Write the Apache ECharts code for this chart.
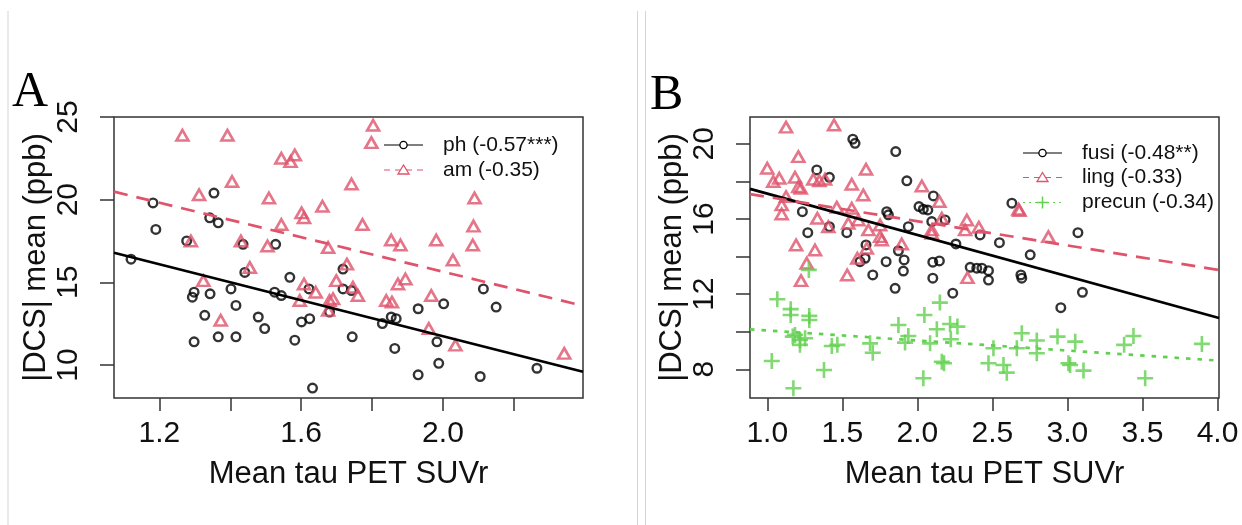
<!DOCTYPE html>
<html>
<head>
<meta charset="utf-8">
<script src="https://cdn.jsdelivr.net/npm/echarts@6/dist/echarts.min.js"></script>
<style>
  html, body { margin: 0; padding: 0; background: #fff; }
  #chart { width: 1242px; height: 525px; }
</style>
</head>
<body>
<div id="chart"></div>
<script>
// Panel A: parahippocampal (ph) and amygdala (am) |DCS| means vs mean tau PET SUVr
const phTau = [1.12, 1.182, 1.19, 1.277, 1.298, 1.293, 1.343, 1.328, 1.298, 1.366, 1.416, 1.416, 1.402, 1.441, 1.436, 1.354,
  1.342, 1.366, 1.479, 1.497, 1.528, 1.525, 1.544, 1.568, 1.601, 1.624, 1.582, 1.632, 1.622, 1.68, 1.718, 1.718, 1.742,
  1.744, 1.829, 1.854, 1.868, 1.864, 1.93, 2.002, 1.983, 1.988, 1.93, 2.114, 2.15, 2.105, 2.265];
const phDcs = [16.4, 19.8, 18.2, 17.5, 14.4, 14.1, 14.3, 13.0, 11.4, 11.7, 11.7, 13.6, 14.6, 15.6, 17.3, 20.4,
  18.9, 18.6, 12.9, 12.2, 17.3, 14.4, 14.2, 15.3, 12.6, 12.8, 11.5, 8.6, 14.6, 13.2, 15.8, 14.6, 14.5,
  11.7, 12.5, 12.9, 12.8, 11.0, 13.4, 13.7, 11.4, 10.1, 9.4, 14.6, 13.5, 9.3, 9.8];

const amTau = [1.265, 1.392, 1.544, 1.582, 1.57, 1.405, 1.312, 1.509, 1.742, 1.66, 1.601, 1.608, 1.544, 1.773, 1.803, 1.798,
  2.089, 2.086, 1.854, 1.88, 1.981, 2.084, 2.028, 1.729, 1.746, 1.76, 1.894, 1.873, 1.84, 1.856, 1.967, 1.96,
  2.035, 2.342, 1.289, 1.43, 1.505, 1.676, 1.455, 1.324, 1.608, 1.641, 1.699, 1.596, 1.68, 1.69, 1.676, 1.373];
const amDcs = [23.9, 23.9, 22.5, 22.7, 22.3, 21.1, 20.3, 20.1, 20.95, 19.6, 19.2, 18.9, 18.5, 18.5, 24.5, 23.45,
  20.1, 18.4, 17.56, 17.26, 17.56, 17.26, 16.35, 16.1, 14.7, 14.2, 15.2, 14.9, 13.9, 13.8, 14.2, 12.2,
  11.2, 10.7, 17.5, 17.5, 17.2, 17.1, 15.9, 15.1, 14.9, 14.4, 15.1, 13.9, 13.9, 14.0, 13.3, 12.7];

// Panel B: fusiform (fusi), lingual (ling) and precuneus (precun)
const fusiTau = [1.57, 1.585, 1.856, 1.33, 1.414, 1.93, 2.107, 2.011, 2.04, 2.07, 1.234, 1.796, 1.807, 2.185, 2.096, 1.94,
  1.27, 1.414, 1.53, 2.418, 2.63, 3.07, 1.658, 1.652, 1.618, 1.703, 1.792, 1.874, 1.912, 1.907, 1.852, 2.103,
  2.147, 2.103, 2.236, 2.257, 2.352, 2.396, 2.43, 2.474, 2.474, 2.547, 2.752, 2.69, 2.696, 3.1, 2.956];
const fusiDcs = [20.25, 20.03, 19.59, 18.61, 18.22, 18.03, 17.23, 16.66, 16.52, 16.48, 16.39, 16.39, 16.22, 15.95, 15.86, 15.59,
  15.27, 15.59, 15.27, 15.15, 16.84, 15.27, 14.62, 13.91, 13.73, 13.02, 13.73, 14.31, 13.82, 13.23, 12.31, 13.7,
  13.77, 12.85, 12.05, 14.67, 13.43, 13.38, 13.38, 13.25, 12.75, 14.74, 14.09, 13.02, 12.85, 12.1, 11.28];

const lingTau = [1.125, 1.445, 1.207, 1.0, 1.658, 1.04, 1.08, 1.185, 1.207, 1.223, 1.307, 1.347, 1.385, 1.563, 2.03, 1.64,
  1.125, 1.096, 1.096, 2.147, 1.463, 1.563, 1.607, 1.334, 1.407, 1.54, 1.674, 1.752, 1.752, 2.163, 2.096, 2.096,
  2.33, 2.41, 2.318, 2.674, 2.68, 2.873, 1.192, 1.318, 1.263, 1.225, 1.533, 1.6, 1.663, 1.763, 1.896, 2.334];
const lingDcs = [20.89, 21.0, 19.32, 18.7, 18.65, 18.0, 18.17, 18.22, 17.72, 17.64, 18.12, 18.04, 18.12, 17.85, 17.76, 17.28,
  17.19, 16.75, 16.27, 16.93, 16.63, 16.57, 15.95, 16.04, 15.59, 15.77, 15.42, 15.68, 15.06, 16.04, 15.42, 15.24,
  15.95, 15.56, 15.42, 16.52, 16.45, 15.06, 14.62, 14.35, 13.64, 12.72, 13.02, 13.91, 14.44, 14.88, 14.67, 12.88];

const precunTau = [1.067, 1.156, 1.156, 1.28, 1.28, 1.277, 1.03, 1.174, 1.185, 1.218, 1.17, 1.252, 1.218, 1.378, 1.43, 1.467,
  1.685, 1.703, 1.874, 1.94, 1.918, 2.047, 2.15, 2.13, 2.218, 2.267, 2.085, 2.223, 2.163, 2.178, 2.04, 2.474,
  2.507, 2.663, 2.696, 2.574, 2.596, 2.796, 2.796, 2.934, 3.052, 3.007, 3.018, 3.107, 3.378, 3.44, 3.518, 3.896];
const precunDcs = [11.73, 11.2, 10.89, 10.84, 10.62, 13.29, 8.44, 6.99, 9.83, 9.56, 9.74, 9.65, 9.3, 7.96, 9.24, 9.3,
  9.38, 8.88, 10.36, 9.77, 9.42, 10.89, 11.55, 10.13, 10.41, 10.27, 9.38, 9.6, 8.4, 8.32, 7.52, 8.32,
  9.12, 9.12, 9.92, 8.23, 7.82, 9.53, 8.85, 9.74, 9.47, 8.32, 8.23, 7.93, 9.3, 9.77, 7.52, 9.35];

// Linear fits: [intercept, slope]
const phFit = [22.62, -5.44];
const amFit = [26.08, -5.22];
const fusiFit = [19.55, -2.2];
const lingFit = [18.47, -1.293];
const precunFit = [10.6, -0.534];

// Legend entries with correlation coefficients
const legendA = ['ph (-0.57***)', 'am (-0.35)'];
const legendB = ['fusi (-0.48**)', 'ling (-0.33)', 'precun (-0.34)'];

// Axis ranges and ticks
const xRangeA = [1.072, 2.395];
const yRangeA = [8, 25];
const xTicksA = [1.2, 1.4, 1.6, 1.8, 2.0, 2.2];
const xLabelsA = [1.2, 1.6, 2.0];
const yTicksA = [10, 15, 20, 25];
const yLabelsA = [10, 15, 20, 25];

const xRangeB = [0.885, 4.01];
const yRangeB = [6.47, 21.43];
const xTicksB = [1.0, 1.5, 2.0, 2.5, 3.0, 3.5, 4.0];
const xLabelsB = [1.0, 1.5, 2.0, 2.5, 3.0, 3.5, 4.0];
const yTicksB = [8, 10, 12, 14, 16, 18, 20];
const yLabelsB = [8, 12, 16, 20];

const RED = '#DF536B';
const GREEN = '#61D04F';
const BLACK = '#000000';
const SANS = '"Liberation Sans", Arial, sans-serif';
const SERIF = '"Liberation Serif", "Times New Roman", serif';

const pairs = (xs, ys) => xs.map((x, i) => [x, ys[i]]);
const fitLine = (fit, range) => range.map(x => [x, fit[0] + fit[1] * x]);
const PLUS = 'path://M6.7,0h2.6v6.7h6.7v2.6h-6.7v6.7h-2.6v-6.7h-6.7v-2.6h6.7z';

function xAxisCfg(grid, range, ticks, labels) {
  return {
    gridIndex: grid, type: 'value', min: range[0], max: range[1],
    axisLine: { show: false }, splitLine: { show: false },
    axisTick: { show: true, inside: false, length: 13, customValues: ticks,
      lineStyle: { color: '#333', width: 1.5 } },
    axisLabel: { customValues: labels, formatter: v => v.toFixed(1), fontSize: 30,
      fontFamily: SANS, color: '#111', margin: 21 },
    name: 'Mean tau PET SUVr', nameLocation: 'middle', nameGap: 61,
    nameTextStyle: { fontSize: 31, fontFamily: SANS, color: '#111' }
  };
}
function yAxisCfg(grid, range, ticks, labels) {
  return {
    gridIndex: grid, type: 'value', min: range[0], max: range[1],
    axisLine: { show: false }, splitLine: { show: false },
    axisTick: { show: true, inside: false, length: 14, customValues: ticks,
      lineStyle: { color: '#333', width: 1.5 } },
    axisLabel: { customValues: labels, rotate: 90, fontSize: 30,
      fontFamily: SANS, color: '#111', margin: 30 },
    name: '|DCS| mean (ppb)', nameLocation: 'middle', nameRotate: 90, nameGap: 62,
    nameTextStyle: { fontSize: 31, fontFamily: SANS, color: '#111' }
  };
}

function scatter(name, grid, xs, ys, kind, color) {
  const s = { name, type: 'scatter', xAxisIndex: grid, yAxisIndex: grid, data: pairs(xs, ys), silent: true };
  if (kind === 'circle') {
    s.symbol = 'circle'; s.symbolSize = 8.6;
    s.itemStyle = { color: 'rgba(0,0,0,0)', borderColor: color, borderWidth: 2.4 };
  } else if (kind === 'triangle') {
    s.symbol = 'triangle'; s.symbolSize = [12, 10.5];
    s.itemStyle = { color: 'rgba(0,0,0,0)', borderColor: color, borderWidth: 2.6 };
  } else {
    s.symbol = PLUS; s.symbolSize = 16;
    s.itemStyle = { color: color };
  }
  return s;
}
function fitSeries(grid, fit, range, color, dash) {
  return {
    type: 'line', xAxisIndex: grid, yAxisIndex: grid, data: fitLine(fit, range),
    showSymbol: false, silent: true, z: 5,
    lineStyle: { color, width: 2.7, type: dash }
  };
}

// Hand-drawn legend: short line, marker, label
function legendGroup(x0, ys, labels, styles) {
  const els = [];
  labels.forEach((txt, i) => {
    const y = ys[i], st = styles[i];
    els.push({ type: 'line', shape: { x1: x0, y1: y, x2: x0 + 39, y2: y },
      style: { stroke: st.color, lineWidth: 1.2, lineDash: st.dash } });
    const cx = x0 + 19.5;
    if (st.kind === 'circle') {
      els.push({ type: 'circle', shape: { cx, cy: y, r: 3.6 },
        style: { fill: '#fff', stroke: st.color, lineWidth: 1.3 } });
    } else if (st.kind === 'triangle') {
      els.push({ type: 'polygon', shape: { points: [[cx, y - 5], [cx - 5.5, y + 4], [cx + 5.5, y + 4]] },
        style: { fill: '#fff', stroke: st.color, lineWidth: 1.3 } });
    } else {
      els.push({ type: 'line', shape: { x1: cx - 6, y1: y, x2: cx + 6, y2: y }, style: { stroke: st.color, lineWidth: 1.5 } });
      els.push({ type: 'line', shape: { x1: cx, y1: y - 6, x2: cx, y2: y + 6 }, style: { stroke: st.color, lineWidth: 1.5 } });
    }
    els.push({ type: 'text', x: x0 + 59, y: y, style: { text: txt, font: '21px ' + SANS, fill: '#111',
      textVerticalAlign: 'middle', verticalAlign: 'middle' } });
  });
  return els;
}

const chart = echarts.init(document.getElementById('chart'), null, { renderer: 'canvas' });
chart.setOption({
  animation: false,
  backgroundColor: '#fff',
  grid: [
    { left: 114, top: 117, width: 469, height: 281, show: true, borderColor: '#333', borderWidth: 1.5, containLabel: false },
    { left: 750, top: 117, width: 469, height: 281, show: true, borderColor: '#333', borderWidth: 1.5, containLabel: false }
  ],
  xAxis: [xAxisCfg(0, xRangeA, xTicksA, xLabelsA), xAxisCfg(1, xRangeB, xTicksB, xLabelsB)],
  yAxis: [yAxisCfg(0, yRangeA, yTicksA, yLabelsA), yAxisCfg(1, yRangeB, yTicksB, yLabelsB)],
  series: [
    scatter('ph', 0, phTau, phDcs, 'circle', BLACK),
    scatter('am', 0, amTau, amDcs, 'triangle', RED),
    fitSeries(0, phFit, xRangeA, BLACK, 'solid'),
    fitSeries(0, amFit, xRangeA, RED, [14, 9]),
    scatter('fusi', 1, fusiTau, fusiDcs, 'circle', BLACK),
    scatter('ling', 1, lingTau, lingDcs, 'triangle', RED),
    scatter('precun', 1, precunTau, precunDcs, 'plus', GREEN),
    fitSeries(1, fusiFit, xRangeB, BLACK, 'solid'),
    fitSeries(1, lingFit, xRangeB, RED, [14, 9]),
    fitSeries(1, precunFit, xRangeB, GREEN, [4.5, 7])
  ],
  graphic: [
    { type: 'line', shape: { x1: 8, y1: 11, x2: 8, y2: 525 }, style: { stroke: '#d4d4d4', lineWidth: 1 } },
    { type: 'line', shape: { x1: 637.5, y1: 11, x2: 637.5, y2: 525 }, style: { stroke: '#d4d4d4', lineWidth: 1 } },
    { type: 'line', shape: { x1: 645.5, y1: 11, x2: 645.5, y2: 525 }, style: { stroke: '#d4d4d4', lineWidth: 1 } },
    { type: 'text', x: 12, y: 93, style: { text: 'A', font: '50px ' + SERIF, fill: '#000', verticalAlign: 'middle', textVerticalAlign: 'middle' } },
    { type: 'text', x: 650, y: 96, style: { text: 'B', font: '50px ' + SERIF, fill: '#000', verticalAlign: 'middle', textVerticalAlign: 'middle' } },
    ...legendGroup(384, [145, 170], legendA, [
      { kind: 'circle', color: BLACK, dash: null },
      { kind: 'triangle', color: RED, dash: [6, 5] }
    ]),
    ...legendGroup(1023, [153, 177.5, 202.5], legendB, [
      { kind: 'circle', color: BLACK, dash: null },
      { kind: 'triangle', color: RED, dash: [6, 5] },
      { kind: 'plus', color: GREEN, dash: [2, 4] }
    ])
  ]
});
</script>
</body>
</html>
